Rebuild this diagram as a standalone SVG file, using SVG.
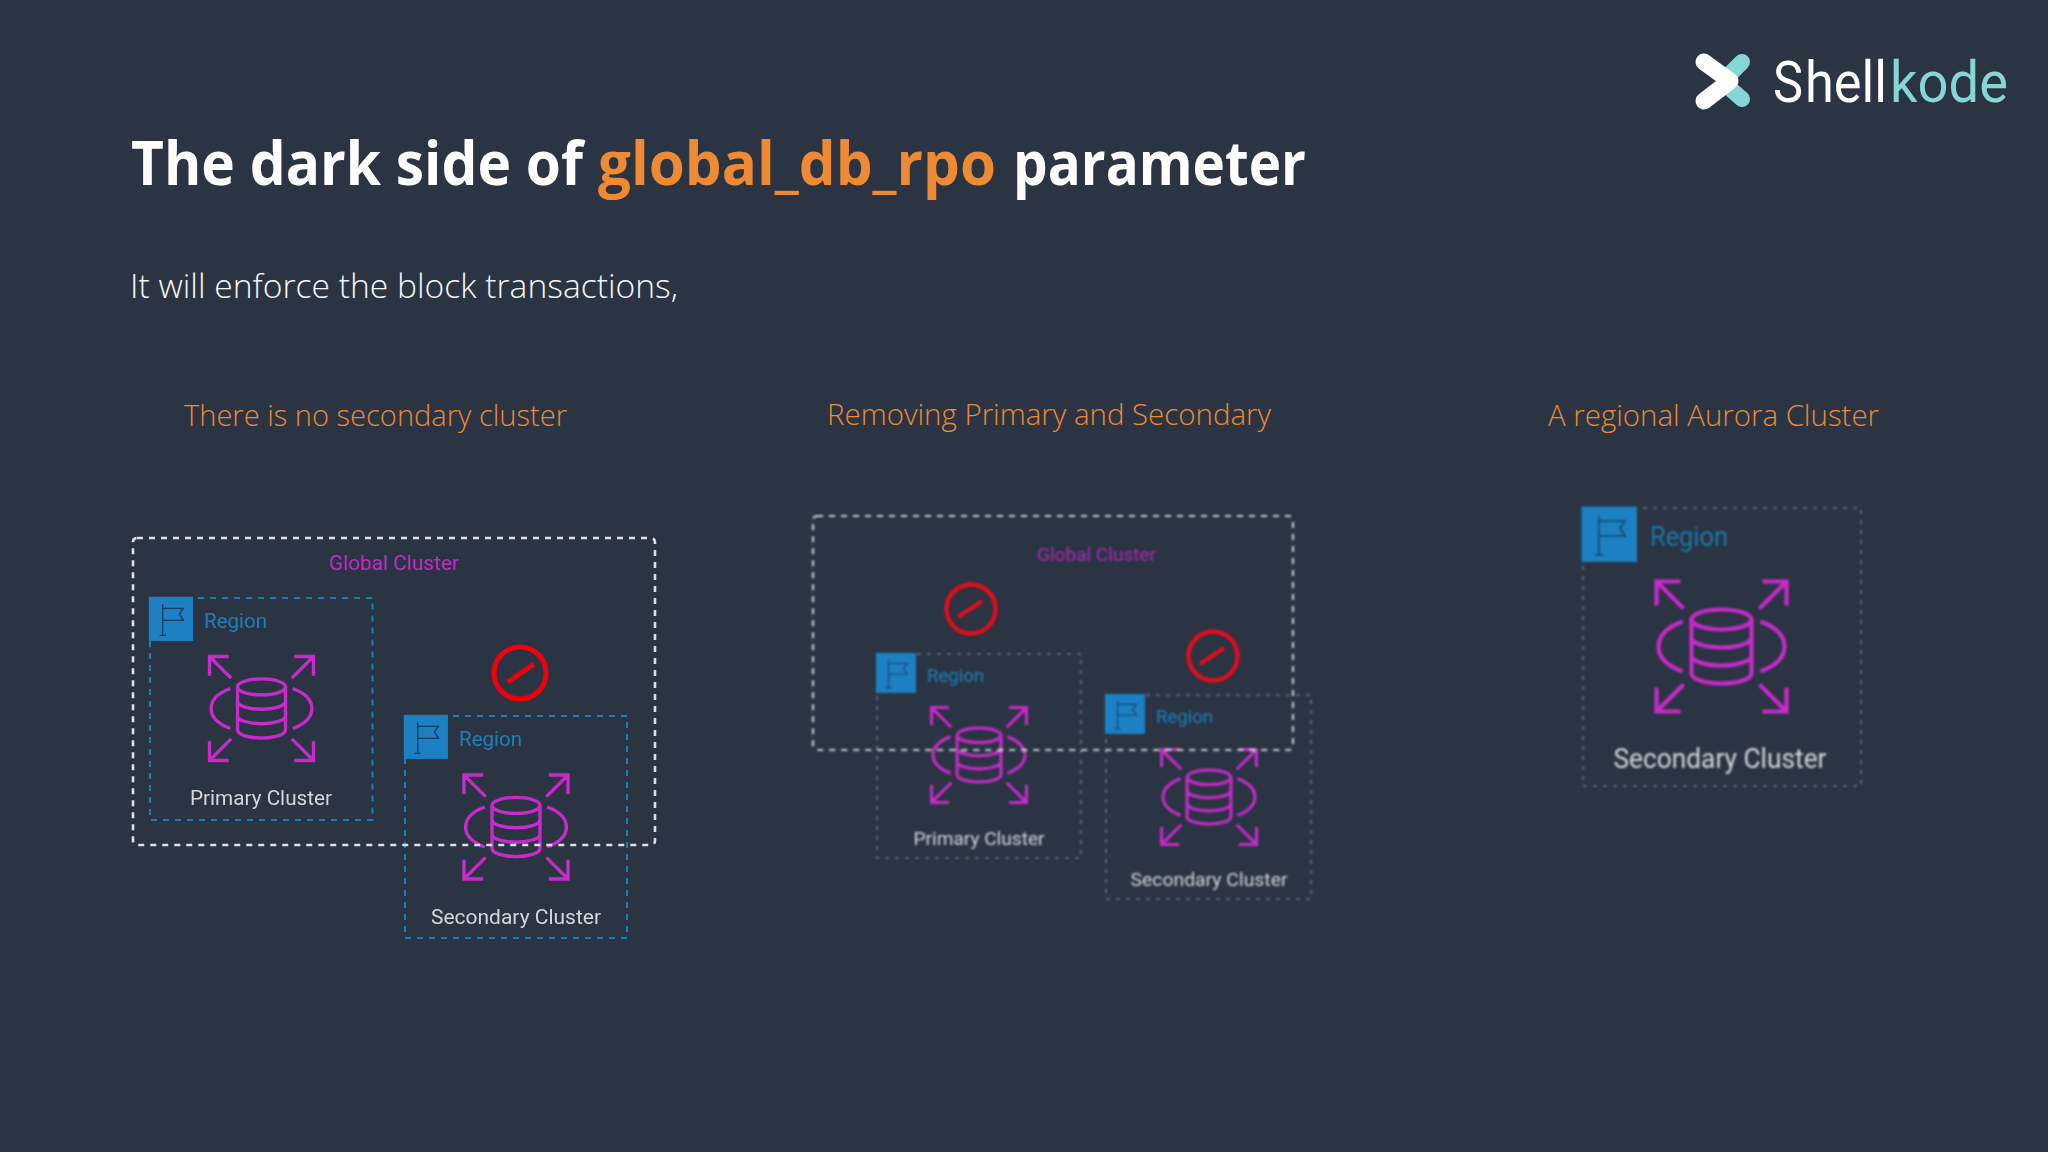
<svg xmlns="http://www.w3.org/2000/svg" xmlns:xlink="http://www.w3.org/1999/xlink" width="2048" height="1152" viewBox="0 0 2048 1152">
<style>
.head{font-family:"Open Sans","Noto Sans",sans-serif}
.t{font-size:60px;font-weight:700;fill:#fff}
.o{fill:#ee8a33}
.s{font-size:33px;font-weight:350;fill:#f4f6f8}
.h{font-size:30px;font-weight:320;fill:#ee8a33}
.lab{font-family:Roboto,"Liberation Sans",sans-serif}
.g{fill:#c42ac8}
.r{fill:#1e80bb}
.c{fill:#d3d6da;text-anchor:middle}
.gb{fill:none;stroke:#dcdfe3;stroke-width:2.6;stroke-dasharray:6 6}
.gb2{fill:none;stroke:#c9cdd2;stroke-width:2.2;stroke-dasharray:6 6}
.rb{fill:none;stroke:#1b7cb6;stroke-width:2;stroke-dasharray:6 6}
.rb2{fill:none;stroke:#6b7785;stroke-width:1.6;stroke-dasharray:4 6}
.box{fill:#1a80c2}
.no{fill:none;stroke:#f00010;stroke-width:5}
.no2{fill:none;stroke:#e0101e;stroke-width:4.5}
.ic{fill:none;stroke:#c92ccb;stroke-width:4.2;stroke-linecap:butt}
.fl{fill:none;stroke:#173a63;stroke-width:1.6}
.lw{fill:none;stroke:#fff;stroke-width:17;stroke-linecap:round;stroke-linejoin:round}
.lt{fill:none;stroke:#86d6d6;stroke-width:16;stroke-linecap:round}
</style>
<defs>
<filter id="soft" x="-5%" y="-5%" width="110%" height="110%"><feGaussianBlur stdDeviation="0.7"/></filter>
<filter id="soft2" x="-5%" y="-5%" width="110%" height="110%"><feGaussianBlur stdDeviation="1"/></filter>
<g id="db" class="ic">
<path d="M-38-38L-65-65M-65-41V-65H-41M38-38L65-65M41-65H65V-41M-38 38L-65 65M-65 41V65H-41M38 38L65 65M41 65H65V41"/>
<path d="M-39-25Q-63-16-63 0T-39 25M39-25Q63-16 63 0T39 25"/>
<ellipse cx="0" cy="-27" rx="30" ry="10"/>
<path d="M-30-27V27C-30 33-15 37 0 37S30 33 30 27V-27M-30-9C-30-3-15 1 0 1S30-3 30-9M-30 9C-30 15-15 19 0 19S30 15 30 9"/>
</g>
<g id="flag">
<rect class="box" x="-1.500" y="-1.500" width="55.500" height="55.500"/>
<path class="fl" d="M16 8V47M12 47H20M16 13H42L37 20L42 28H16"/>
</g>
</defs>
<rect width="2048" height="1152" fill="#2a3443"/>
<g id="connectors"/>
<g id="logo">
<path class="lt" d="M1742 62L1724 80M1726 85L1742 99"/>
<path class="lw" d="M1704 62L1730 81L1704 101"/>
<text class="lab" y="102" font-size="58" font-weight="400"><tspan x="1773" fill="#fff" textLength="30" lengthAdjust="spacingAndGlyphs">S</tspan><tspan x="1805" fill="#fff" textLength="82" lengthAdjust="spacingAndGlyphs">hell</tspan><tspan x="1890" fill="#86d6d6" textLength="118" lengthAdjust="spacingAndGlyphs">kode</tspan></text>
</g>
<g id="title">
<text class="head t" y="185"><tspan x="131" textLength="452" lengthAdjust="spacingAndGlyphs">The dark side of</tspan><tspan x="598" class="o" textLength="398" lengthAdjust="spacingAndGlyphs">global_db_rpo</tspan><tspan x="1013" textLength="293" lengthAdjust="spacingAndGlyphs">parameter</tspan></text>
<text class="head s" x="130" y="298" textLength="548" lengthAdjust="spacingAndGlyphs">It will enforce the block transactions,</text>
</g>
<g id="headings">
<text class="head h" x="184" y="426" textLength="383" lengthAdjust="spacingAndGlyphs">There is no secondary cluster</text>
<text class="head h" x="827" y="425" textLength="444" lengthAdjust="spacingAndGlyphs">Removing Primary and Secondary</text>
<text class="head h" x="1548" y="426" textLength="331" lengthAdjust="spacingAndGlyphs">A regional Aurora Cluster</text>
</g>
<g id="panel1" filter="url(#soft)">
<g id="p1-region1">
<rect class="rb" x="150" y="598" width="222.500" height="222"/>
<use href="#flag" transform="translate(150 598) scale(.796)"/>
<text class="lab r" x="204" y="628" font-size="21" textLength="63" lengthAdjust="spacingAndGlyphs">Region</text>
<use href="#db" transform="translate(261.500 708.500) scale(.8)"/>
<text class="lab c" x="261" y="805" font-size="21" textLength="142" lengthAdjust="spacingAndGlyphs">Primary Cluster</text>
</g>
<g id="p1-region2">
<rect class="rb" x="405" y="716" width="222" height="222"/>
<use href="#flag" transform="translate(405 716) scale(.796)"/>
<text class="lab r" x="459" y="746" font-size="21" textLength="63" lengthAdjust="spacingAndGlyphs">Region</text>
<use href="#db" transform="translate(516 827) scale(.8)"/>
<text class="lab c" x="516" y="924" font-size="21" textLength="170" lengthAdjust="spacingAndGlyphs">Secondary Cluster</text>
</g>
<g id="p1-global">
<rect class="gb" x="133" y="538" width="522" height="307" rx="4"/>
<text class="lab g" x="329" y="570" font-size="21" textLength="130" lengthAdjust="spacingAndGlyphs">Global Cluster</text>
</g>
<g id="p1-block" class="no">
<ellipse cx="520" cy="673" rx="26" ry="26"/>
<path d="M508 682L534 664"/>
</g>
</g>
<g id="panel2" filter="url(#soft2)">
<g id="p2-region1">
<rect class="rb2" x="877" y="654" width="204" height="204"/>
<use href="#flag" transform="translate(877 654) scale(.722)"/>
<text class="lab r" x="927" y="682" font-size="19" textLength="57" lengthAdjust="spacingAndGlyphs">Region</text>
<use href="#db" transform="translate(979 755) scale(.73)"/>
<text class="lab c" x="979" y="845" font-size="19" textLength="131" lengthAdjust="spacingAndGlyphs">Primary Cluster</text>
</g>
<g id="p2-region2">
<rect class="rb2" x="1106" y="695" width="205" height="204"/>
<use href="#flag" transform="translate(1106 695) scale(.722)"/>
<text class="lab r" x="1156" y="723" font-size="19" textLength="57" lengthAdjust="spacingAndGlyphs">Region</text>
<use href="#db" transform="translate(1209 797) scale(.73)"/>
<text class="lab c" x="1209" y="886" font-size="19" textLength="157" lengthAdjust="spacingAndGlyphs">Secondary Cluster</text>
</g>
<g id="p2-global">
<rect class="gb2" x="813" y="516" width="480" height="234" rx="4"/>
<text class="lab g" x="1037" y="561" font-size="19" opacity=".85" textLength="119" lengthAdjust="spacingAndGlyphs">Global Cluster</text>
</g>
<g id="p2-block1" class="no2">
<circle cx="971" cy="609" r="24.500"/>
<path d="M958 617L982 601"/>
</g>
<g id="p2-block2" class="no2">
<circle cx="1213" cy="656" r="24.500"/>
<path d="M1200 664L1224 648"/>
</g>
</g>
<g id="panel3" filter="url(#soft2)">
<rect class="rb2" x="1583" y="508" width="278" height="278"/>
<use href="#flag" transform="translate(1583 508)"/>
<text class="lab r" x="1650" y="546" font-size="27" opacity=".85" textLength="78" lengthAdjust="spacingAndGlyphs">Region</text>
<use href="#db" transform="translate(1721.500 646.500)"/>
<text class="lab c" x="1720" y="768" font-size="27" textLength="213" lengthAdjust="spacingAndGlyphs">Secondary Cluster</text>
</g>
</svg>
